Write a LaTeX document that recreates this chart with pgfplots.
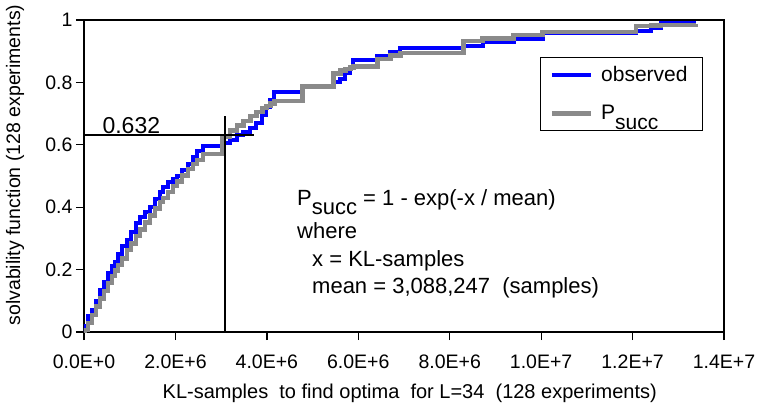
\documentclass[border=0pt]{standalone}
\usepackage{fontspec}
\setmainfont{Liberation Sans}
\usepackage{pgfplots}
\usepackage{pgfplotstable}
\pgfplotsset{compat=1.18}

% Observed solvability function: KL-samples (x) vs. fraction solved (y)
\pgfplotstableread{
x y
0 0
22000 0.02
88000 0.05
175000 0.07
263000 0.10
351000 0.135
438000 0.16
526000 0.19
613000 0.21
679000 0.225
745000 0.25
832000 0.275
942000 0.295
1030000 0.32
1139000 0.35
1227000 0.37
1336000 0.385
1446000 0.40
1556000 0.425
1665000 0.45
1731000 0.465
1840000 0.48
1950000 0.49
2038000 0.50
2147000 0.52
2279000 0.54
2388000 0.56
2476000 0.58
2607000 0.595
3023000 0.605
3199000 0.615
3352000 0.63
3484000 0.64
3637000 0.654
3768000 0.67
3900000 0.695
3987000 0.72
4075000 0.745
4163000 0.77
4776000 0.785
5455000 0.80
5609000 0.81
5718000 0.83
5828000 0.85
5894000 0.872
6419000 0.885
6704000 0.897
6923000 0.91
8304000 0.918
8720000 0.93
9399000 0.94
10034000 0.958
12072000 0.966
12400000 0.974
12620000 0.99
13386000 0.99
}\observed

% P_succ = 1 - exp(-x/mean) at the same sample counts
\pgfplotstableread{
x y
0 0
22000 0.0071
88000 0.0281
175000 0.0551
263000 0.0817
351000 0.1075
438000 0.1322
526000 0.1566
613000 0.1800
679000 0.1974
745000 0.2143
832000 0.2362
942000 0.2629
1030000 0.2836
1139000 0.3084
1227000 0.3279
1336000 0.3512
1446000 0.3739
1556000 0.3958
1665000 0.4168
1731000 0.4291
1840000 0.4489
1950000 0.4682
2038000 0.4831
2147000 0.5010
2279000 0.5219
2388000 0.5385
2476000 0.5515
2607000 0.5701
3023000 0.6243
3199000 0.6451
3352000 0.6623
3484000 0.6764
3637000 0.6920
3768000 0.7048
3900000 0.7172
3987000 0.7250
4075000 0.7328
4163000 0.7403
4776000 0.7870
5455000 0.8291
5609000 0.8374
5718000 0.8430
5828000 0.8485
5894000 0.8517
6419000 0.8749
6704000 0.8859
6923000 0.8937
8304000 0.9321
8720000 0.9406
9399000 0.9523
10034000 0.9612
12072000 0.9800
12400000 0.9820
12620000 0.9832
13386000 0.9869
}\psucc

\definecolor{obsblue}{RGB}{0,0,255}
\definecolor{psgray}{RGB}{138,138,138}

\begin{document}
\begin{tikzpicture}
\begin{axis}[
  at={(0,0)}, anchor=south west,
  scale only axis,
  width=640pt, height=312pt,
  xmin=0, xmax=14000000,
  ymin=0, ymax=1,
  axis line style={black, line width=1.5pt},
  tick align=outside,
  xtick pos=bottom, ytick pos=left,
  major tick length=8pt,
  every tick/.style={black, line width=1.3pt},
  xtick={0,2000000,4000000,6000000,8000000,10000000,12000000,14000000},
  xticklabels={0.0E+0,2.0E+6,4.0E+6,6.0E+6,8.0E+6,1.0E+7,1.2E+7,1.4E+7},
  ytick={0,0.2,0.4,0.6,0.8,1},
  yticklabels={0,0.2,0.4,0.6,0.8,1},
  scaled x ticks=false,
  tick label style={font=\fontsize{19.5}{22}\selectfont},
  xticklabel style={anchor=base, yshift=-28pt},
  yticklabel style={anchor=east},
  xlabel={KL-samples\ \ to find optima\ \ for L=34\ \ (128 experiments)},
  ylabel={solvability function (128 experiments)},
  every axis x label/.style={at={(axis description cs:0.509,-0.2147)}, anchor=base,
    font=\fontsize{20}{22}\selectfont},
  every axis y label/.style={at={(axis description cs:-0.1078,0.535)}, anchor=center, rotate=90,
    font=\fontsize{19.5}{22}\selectfont},
  legend style={at={(axis description cs:0.7125,0.881)}, anchor=north west,
    draw=black, line width=1.3pt, inner xsep=9pt, inner ysep=6pt, row sep=16pt,
    column sep=2pt,
    nodes={inner xsep=6pt, inner ysep=3pt},
    font=\fontsize{21}{23}\selectfont, cells={anchor=west}},
  legend image code/.code={\draw[#1] (0pt,0pt) -- (39pt,0pt);},
]
\addplot[const plot, obsblue, line width=4pt] table {\observed};
\addlegendentry{observed}
\addplot[const plot, psgray, line width=4.5pt] table {\psucc};
\addlegendentry{P\raisebox{-0.45em}{succ}}
% 1 - 1/e level and the mean
\addplot[black, line width=1.8pt, forget plot] coordinates {(0,0.632) (3720000,0.632)};
\addplot[black, line width=1.8pt, forget plot] coordinates {(3088247,0) (3088247,0.692)};
\end{axis}
\node[anchor=base west, font=\fontsize{23}{26}\selectfont] at (15pt,199pt) {0.632};
\node[anchor=base west, font=\fontsize{22}{24}\selectfont, inner sep=0pt] at (213pt,127pt)
  {P\raisebox{-0.45em}{succ} = 1 - exp(-x / mean)};
\node[anchor=base west, font=\fontsize{22}{24}\selectfont, inner sep=0pt] at (213pt,94pt) {where};
\node[anchor=base west, font=\fontsize{22}{24}\selectfont, inner sep=0pt] at (228pt,66pt) {x = KL-samples};
\node[anchor=base west, font=\fontsize{22}{24}\selectfont, inner sep=0pt] at (228pt,39pt) {mean = 3,088,247\ \ (samples)};
\pgfresetboundingbox
\path (-84pt,-70pt) rectangle (675pt,332pt);
\end{tikzpicture}
\end{document}
